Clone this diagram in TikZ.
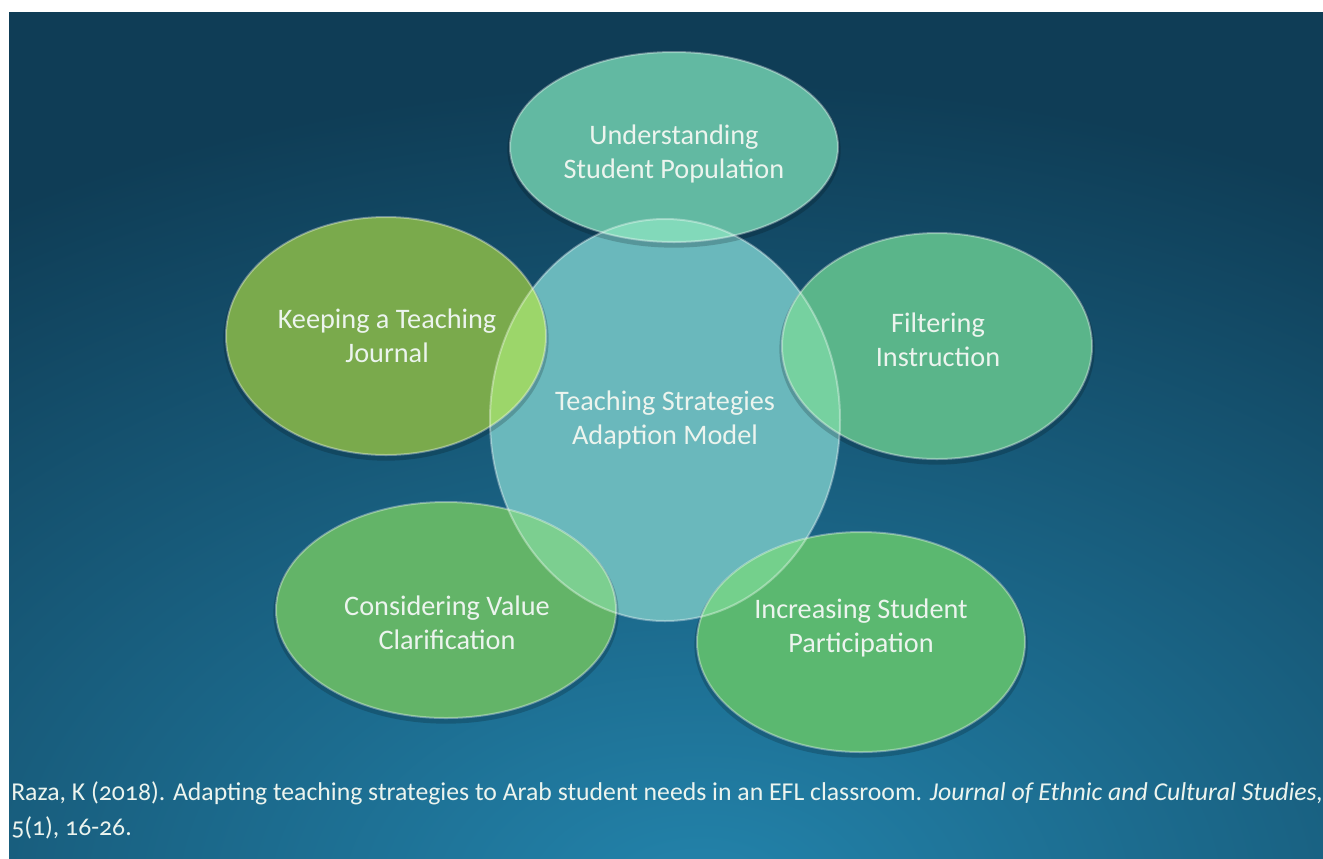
\documentclass[tikz,border=0pt]{standalone}
\usepackage{fontspec}
\setmainfont{Carlito}
\newfontfamily\citefont[Numbers=OldStyle]{Carlito}
\definecolor{bgdark}{HTML}{0F3D56}
\definecolor{bglight}{HTML}{2384AC}
\definecolor{centerfill}{HTML}{6AB8BC}
\definecolor{topfill}{HTML}{62B9A2}
\definecolor{topover}{HTML}{82D9BA}
\definecolor{leftfill}{HTML}{7AAA4C}
\definecolor{leftover}{HTML}{9CD66A}
\definecolor{rightfill}{HTML}{5AB58A}
\definecolor{rightover}{HTML}{76D1A0}
\definecolor{blfill}{HTML}{63B468}
\definecolor{blover}{HTML}{7CCF90}
\definecolor{brfill}{HTML}{5BB870}
\definecolor{brover}{HTML}{74D08C}
\definecolor{labeltext}{HTML}{ECF4EE}
\tikzset{
  rim/.style={draw=white, draw opacity=0.35, line width=1.5},
  shadowrim/.style={draw=black, draw opacity=0.18, line width=4},
  lbl/.style={text=labeltext, align=center, inner sep=0pt, font=\fontsize{21.2}{25.5}\selectfont},
  citetxt/.style={text=labeltext, inner sep=0pt, anchor=base west, font=\citefont\fontsize{19.3}{26}\selectfont}
}
\begin{document}
\begin{tikzpicture}[x=0.75pt,y=-0.75pt]
\useasboundingbox (0,0) rectangle (1323,858);
\fill[white] (0,0) rectangle (1323,858);
% background
\begin{scope}
  \clip (9,12) rectangle (1323,858);
  \fill[bgdark] (9,12) rectangle (1323,858);
  \shade[inner color=bglight, outer color=bgdark] (700,900) ellipse [x radius=1300, y radius=820];
\end{scope}
% centre circle
\fill[centerfill] (665,420) ellipse [x radius=175, y radius=201];
% satellites: shadow, fill
\foreach \cx/\cy/\rx/\ry/\cf in {674/147/164/95/topfill, 386/336/160/119/leftfill, 937/346/155/113/rightfill, 446/610/170/108/blfill, 861/642/164/110/brfill}{
  \draw[shadowrim] (\cx,\cy+3) ellipse [x radius=\rx, y radius=\ry];
  \fill[\cf] (\cx,\cy) ellipse [x radius=\rx, y radius=\ry];
}
% overlaps with centre circle
\begin{scope}
  \clip (665,420) ellipse [x radius=175, y radius=201];
  \foreach \cx/\cy/\rx/\ry/\cf in {674/147/164/95/topover, 386/336/160/119/leftover, 937/346/155/113/rightover, 446/610/170/108/blover, 861/642/164/110/brover}{
    \fill[\cf] (\cx,\cy) ellipse [x radius=\rx, y radius=\ry];
  }
\end{scope}
% rims
\draw[rim] (665,420) ellipse [x radius=175, y radius=201];
\foreach \cx/\cy/\rx/\ry in {674/147/164/95, 386/336/160/119, 937/346/155/113, 446/610/170/108, 861/642/164/110}{
  \draw[rim] (\cx,\cy) ellipse [x radius=\rx, y radius=\ry];
}
% labels
\node[lbl] (centre) at (665,420) {Teaching Strategies\\Adaption Model};
\node[lbl] (understanding) at (674,154) {Understanding\\Student Population};
\node[lbl] (journal) at (387,336) {Keeping a Teaching\\Journal};
\node[lbl] (filtering) at (938,340) {Filtering\\Instruction};
\node[lbl] (values) at (447,623) {Considering Value\\Clarification};
\node[lbl] (participation) at (861,628) {Increasing Student\\Participation};
% citation
\node[citetxt] (citeA) at (11,800) {Raza, K (2018). Adapting teaching strategies to Arab student needs in an EFL classroom. \textit{Journal of Ethnic and Cultural Studies,}};
\node[citetxt] (citeB) at (11,835) {5(1), 16-26.};
\end{tikzpicture}
\end{document}
